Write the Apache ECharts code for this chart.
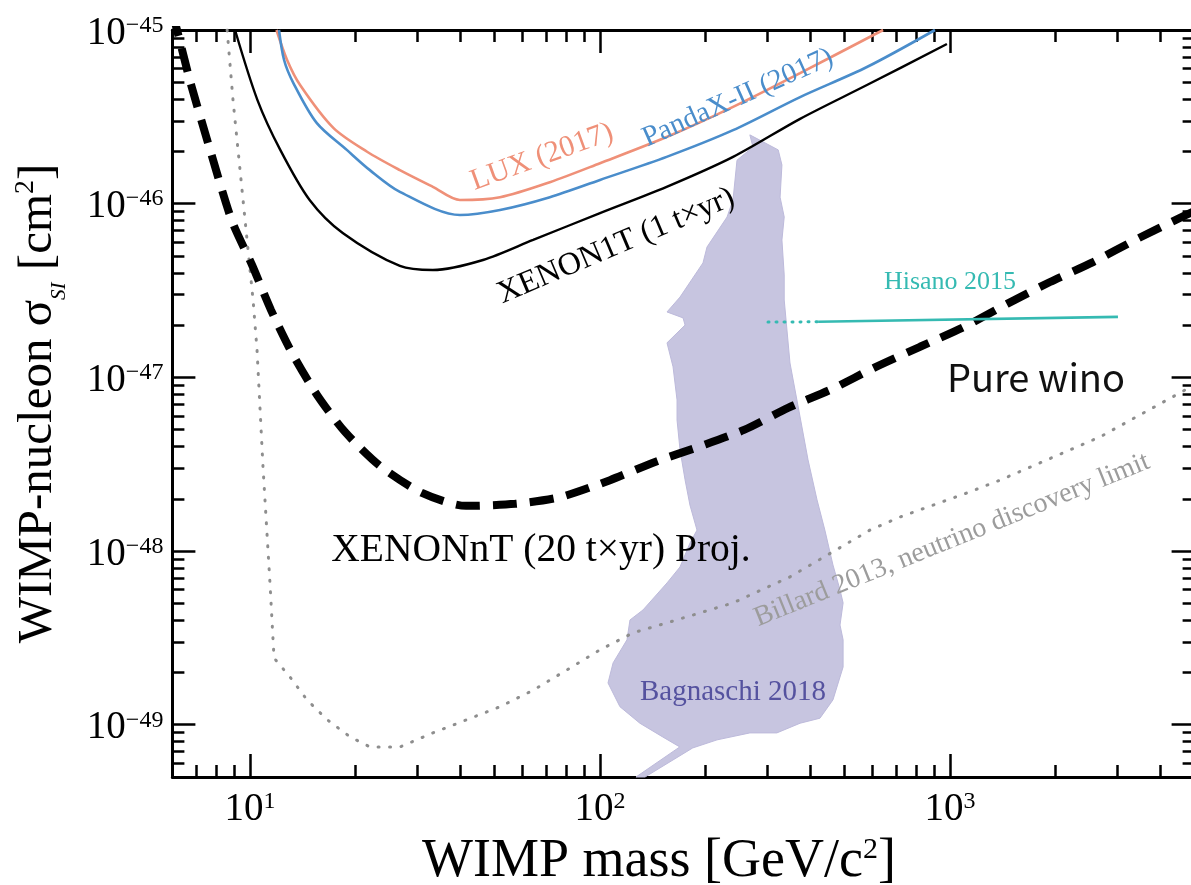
<!DOCTYPE html>
<html>
<head>
<meta charset="utf-8">
<script src="https://cdn.jsdelivr.net/npm/echarts@6/dist/echarts.min.js"></script>
<style>
html,body{margin:0;padding:0;overflow:hidden;background:#fff;width:1191px;height:885px}
#chart{width:1215px;height:885px}
</style>
</head>
<body>
<div id="chart"></div>
<script>
// ---------- data (mass in GeV/c^2, cross-section in cm^2) ----------
const luxCurve = [
  [11.9,1.0e-45],[12.76,6.72e-46],[13.9,4.82e-46],[17.3,2.73e-46],[21.6,1.99e-46],[26.8,1.56e-46],
  [33.3,1.25e-46],[39.8,1.05e-46],[51.8,1.09e-46],[71.9,1.33e-46],[100,1.71e-46],
  [155,2.42e-46],[240,3.61e-46],[373,5.65e-46],[644,1.0e-45]
];
const pandaxCurve = [
  [12.1,1.0e-45],[12.51,6.72e-46],[13.3,4.95e-46],[15.5,2.92e-46],[18.9,2.04e-46],[22.0,1.56e-46],
  [26.8,1.17e-46],[39.8,8.61e-47],[51.8,9.2e-47],[71.9,1.09e-46],[100,1.37e-46],
  [155,1.86e-46],[240,2.65e-46],[373,4.11e-46],[579,6.12e-46],[906,1.0e-45]
];
const xenon1tCurve = [
  [9.06,1.0e-45],[10.5,3.95e-46],[12.2,2.04e-46],[14.8,1.05e-46],[18.4,6.78e-47],
  [26.8,4.38e-47],[33.3,4.15e-47],[46.3,4.74e-47],[64.4,6.18e-47],[100,8.83e-47],
  [155,1.25e-46],[240,1.86e-46],[373,3.08e-46],[579,4.82e-46],[980,8.3e-46]
];
const xenonntCurve = [
  [6.0,1.26e-45],[6.27,8.99e-46],[6.74,5.08e-46],[7.69,2.04e-46],[8.88,7.94e-47],
  [10.13,4.44e-47],[11.48,2.44e-47],[13.18,1.38e-47],[15.54,7.92e-48],[18.68,4.85e-48],
  [23.52,3.09e-48],[31.0,2.16e-48],[41.4,1.82e-48],[57.2,1.87e-48],[77.4,2.05e-48],
  [106.8,2.56e-48],[143.6,3.26e-48],[190.5,3.97e-48],[257.9,4.98e-48],[344.5,6.67e-48],
  [460.2,8.57e-48],[614.6,1.15e-47],[821,1.50e-47],[1096,1.95e-47],[1456,2.65e-47],
  [1931,3.54e-47],[2563,4.61e-47],[3422,6.26e-47],[4541,8.28e-47],[5000,9.08e-47]
];
const neutrinoFloor = [
  [8.6,1.0e-45],[8.94,3.95e-46],[9.55,1.05e-46],[10.2,2.79e-47],[10.47,1.44e-47],
  [10.89,3.05e-48],[11.4,6.55e-49],[11.71,2.42e-49],[13.01,1.88e-49],[14.55,1.39e-49],
  [16.6,1.07e-49],[19.31,8.51e-50],[22.02,7.45e-50],[26.83,7.45e-50],[33.3,8.97e-50],
  [41.7,1.07e-49],[51.8,1.27e-49],[64.4,1.58e-49],[80.5,2.07e-49],[100,2.70e-49],
  [124.3,3.38e-49],[155.4,3.86e-49],[239.9,5.03e-49],[349,7.10e-49],[590.6,1.32e-48],
  [719.7,1.57e-48],[1118,2.16e-48],[1390,2.56e-48],[2683,4.54e-48],[4693,8.45e-48]
];
const hisanoDotted = [[302,2.08e-47],[420,2.09e-47]];
const hisanoSolid = [[420,2.09e-47],[3020,2.23e-47]];
const bagnaschiRegion = [
  [268,2.49e-46],[323,2.04e-46],[331,1.67e-46],[327,1.09e-46],[336,8.38e-47],
  [331,6.18e-47],[336,3.89e-47],[336,2.79e-47],[349,1.21e-47],[373,5.91e-48],
  [393,3.35e-48],[417,1.97e-48],[439,1.32e-48],[463,8.32e-49],[485,5.97e-49],
  [495,5.03e-49],[485,3.75e-49],[495,3.08e-49],[495,2.15e-49],[463,1.39e-49],
  [425,1.09e-49],[373,1.02e-49],[320,8.97e-50],[268,8.97e-50],[216,8.18e-50],
  [184,7.35e-50],[134.5,5.0e-50],[126.7,5.0e-50],[169,7.45e-50],[151,8.51e-50],
  [130,1.02e-49],[114,1.27e-49],[105.4,1.74e-49],[109,2.27e-49],[119.4,3.08e-49],
  [121.8,4.01e-49],[132.7,4.58e-49],[155.4,6.55e-49],[169.3,8.10e-49],[180.7,1.11e-48],
  [189.3,1.32e-48],[180.7,1.84e-48],[175,2.57e-48],[169.3,3.82e-48],[166,5.68e-48],
  [166,7.41e-48],[161.7,1.15e-47],[155.4,1.58e-47],[175,2.00e-47],[172.7,2.20e-47],
  [155.4,2.38e-47],[169.3,2.90e-47],[196.9,4.56e-47],[202.2,5.63e-47],[230.7,8.38e-47],
  [239.9,1.05e-46],[246.3,1.78e-46],[273.6,2.12e-46]
];
// ---------- ticks ----------
const xMajorTicks = [10, 100, 1000];
const xMinorTicks = [7,8,9,20,30,40,50,60,70,80,90,200,300,400,500,600,700,800,900,2000,3000,4000];
const yMajorExponents = [-49, -48, -47, -46, -45];
const yMinorMantissas = [2,3,4,5,6,7,8,9];
const yMinorDecades = [-50, -49, -48, -47, -46];
const X_MIN = 6, X_MAX = 5000, Y_MIN = 5e-50, Y_MAX = 1e-45;

// ---------- helpers ----------
const lg = Math.log10;
const FONT = '"Liberation Serif","Times New Roman",serif';
const xLo = lg(X_MIN), xHi = lg(X_MAX), yLo = lg(Y_MIN), yHi = lg(Y_MAX);
const xMajorLog = xMajorTicks.map(lg);
const xMinorLog = xMinorTicks.map(lg);
const yMajorLog = yMajorExponents.slice();
const yMinorLog = [];
yMinorDecades.forEach(d => yMinorMantissas.forEach(m => {
  const v = d + lg(m);
  if (v > yLo + 1e-6 && v < yHi - 1e-6) yMinorLog.push(v);
}));
const supRich = {
  b: {fontSize: 39, fontFamily: FONT, color: '#000'},
  s: {fontSize: 24, fontFamily: FONT, color: '#000', padding: [0, 0, 16, 0]}
};
function powLabel(v) {
  const e = Math.round(v);
  return '{b|10}{s|' + (e < 0 ? '\u2212' + (-e) : e) + '}';
}
function tickAxis(pos, lo, hi, ticks, len, opts) {
  return Object.assign({
    type: 'value', position: pos, min: lo, max: hi, gridIndex: 0,
    axisLine: {show: false, onZero: false},
    splitLine: {show: false}, splitArea: {show: false},
    axisTick: {show: true, inside: true, length: len, customValues: ticks,
               lineStyle: {color: '#000', width: 2.5}},
    axisLabel: {show: false},
    axisPointer: {show: false}, silent: true
  }, opts || {});
}
const spine = {show: true, onZero: false, lineStyle: {color: '#000', width: 3}};

const chart = echarts.init(document.getElementById('chart'), null, {renderer: 'canvas'});
const option = {
  animation: false,
  backgroundColor: '#fff',
  grid: {left: 172.4, top: 30, width: 1022.2, height: 747, containLabel: false, outerBoundsMode: 'none'},
  xAxis: [
    {type: 'log', logBase: 10, min: X_MIN, max: X_MAX, show: false, gridIndex: 0},
    tickAxis('bottom', xLo, xHi, xMajorLog, 23, {
      axisLine: spine,
      axisLabel: {show: true, customValues: xMajorLog, formatter: powLabel, rich: supRich, margin: 13},
      name: 'WIMP mass [GeV/c{p|2}]', nameLocation: 'middle', nameGap: 56,
      nameTextStyle: {fontFamily: FONT, fontSize: 54, color: '#000', padding: [0, 49, 0, 0],
        rich: {p: {fontFamily: FONT, fontSize: 30, color: '#000', padding: [0, 0, 22, 0]}}}
    }),
    tickAxis('bottom', xLo, xHi, xMinorLog, 12),
    tickAxis('top', xLo, xHi, xMajorLog, 23, {axisLine: spine}),
    tickAxis('top', xLo, xHi, xMinorLog, 12)
  ],
  yAxis: [
    {type: 'log', logBase: 10, min: Y_MIN, max: Y_MAX, show: false, gridIndex: 0},
    tickAxis('left', yLo, yHi, yMajorLog, 23, {
      axisLine: spine,
      axisLabel: {show: true, customValues: yMajorLog, formatter: powLabel, rich: supRich, margin: 9, padding: [7, 0, 0, 0]},
      name: 'WIMP-nucleon \u03c3{sub|SI} [cm{p|2}]', nameLocation: 'middle', nameGap: 102,
      nameTextStyle: {fontFamily: FONT, fontSize: 49, color: '#000',
        rich: {
          sub: {fontFamily: FONT, fontSize: 21, fontStyle: 'italic', color: '#000', padding: [43, 0, 0, 0]},
          p: {fontFamily: FONT, fontSize: 28, color: '#000', padding: [0, 0, 26, 0]}
        }}
    }),
    tickAxis('left', yLo, yHi, yMinorLog, 12),
    tickAxis('right', yLo, yHi, yMajorLog, 23, {axisLine: spine}),
    tickAxis('right', yLo, yHi, yMinorLog, 12)
  ],
  series: [
    {
      name: 'Bagnaschi 2018', type: 'custom', xAxisIndex: 0, yAxisIndex: 0, silent: true,
      data: [[100, 1e-47]],
      renderItem: (params, api) => ({
        type: 'polygon',
        shape: {points: bagnaschiRegion.map(p => api.coord(p))},
        style: {fill: '#c7c5e0', stroke: '#bdbadb', lineWidth: 1}
      })
    },
    {name: 'Billard 2013', type: 'line', data: neutrinoFloor, showSymbol: false, symbol: 'none',
     lineStyle: {color: '#8e8e8e', width: 3, type: [1, 10.5], cap: 'round'}},
    {name: 'LUX (2017)', type: 'line', data: luxCurve, showSymbol: false, symbol: 'none', smooth: 0.3,
     lineStyle: {color: '#ef9078', width: 2.6}},
    {name: 'PandaX-II (2017)', type: 'line', data: pandaxCurve, showSymbol: false, symbol: 'none', smooth: 0.3,
     lineStyle: {color: '#4a8dcb', width: 2.6}},
    {name: 'XENON1T', type: 'line', data: xenon1tCurve, showSymbol: false, symbol: 'none', smooth: 0.3,
     lineStyle: {color: '#000', width: 2.4}},
    {name: 'XENONnT', type: 'line', data: xenonntCurve, showSymbol: false, symbol: 'none', smooth: 0.25,
     lineStyle: {color: '#000', width: 8, type: [24, 13]}},
    {name: 'Hisano 2015 (dotted)', type: 'line', data: hisanoDotted, showSymbol: false, symbol: 'none',
     lineStyle: {color: '#35bab2', width: 3, type: [1, 7], cap: 'round'}},
    {name: 'Hisano 2015', type: 'line', data: hisanoSolid, showSymbol: false, symbol: 'none',
     lineStyle: {color: '#35bab2', width: 2.6}}
  ],
  graphic: [
    {type: 'text', x: 542, y: 157, rotation: 20 * Math.PI / 180, z: 100, silent: true,
     style: {text: 'LUX (2017)', fontFamily: FONT, fontSize: 30, fill: '#ef9078', align: 'center', verticalAlign: 'middle'}},
    {type: 'text', x: 738, y: 98, rotation: 24 * Math.PI / 180, z: 100, silent: true,
     style: {text: 'PandaX-II (2017)', fontFamily: FONT, fontSize: 29, fill: '#4a8dcb', align: 'center', verticalAlign: 'middle'}},
    {type: 'text', x: 616, y: 246, rotation: 23 * Math.PI / 180, z: 100, silent: true,
     style: {text: 'XENON1T (1 t\u00d7yr)', fontFamily: FONT, fontSize: 32, fill: '#000', align: 'center', verticalAlign: 'middle'}},
    {type: 'text', x: 541, y: 551, z: 100, silent: true,
     style: {text: 'XENONnT (20 t\u00d7yr) Proj.', fontFamily: FONT, fontSize: 39.5, fill: '#000', align: 'center', verticalAlign: 'middle'}},
    {type: 'text', x: 950, y: 282, z: 100, silent: true,
     style: {text: 'Hisano 2015', fontFamily: FONT, fontSize: 26, fill: '#35bab2', align: 'center', verticalAlign: 'middle'}},
    {type: 'text', x: 1036, y: 378, z: 100, silent: true,
     style: {text: 'Pure wino', fontFamily: '"Noto Sans CJK JP","Noto Sans",sans-serif', fontSize: 38, fill: '#111', align: 'center', verticalAlign: 'middle'}},
    {type: 'text', x: 733, y: 692, z: 100, silent: true,
     style: {text: 'Bagnaschi 2018', fontFamily: FONT, fontSize: 29, fill: '#55529f', align: 'center', verticalAlign: 'middle'}},
    {type: 'text', x: 952, y: 540, rotation: 22 * Math.PI / 180, z: 100, silent: true,
     style: {text: 'Billard 2013, neutrino discovery limit', fontFamily: FONT, fontSize: 28, fill: '#9c9c9c', align: 'center', verticalAlign: 'middle'}}
  ]
};
chart.setOption(option);
</script>
</body>
</html>
